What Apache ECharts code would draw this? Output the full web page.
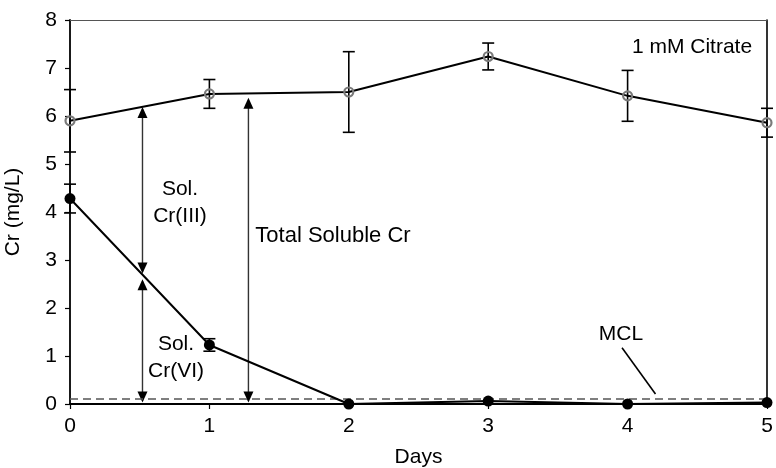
<!DOCTYPE html>
<html>
<head>
<meta charset="utf-8">
<title>Cr (mg/L) vs Days — 1 mM Citrate</title>
<script src="https://cdn.jsdelivr.net/npm/echarts@6/dist/echarts.min.js"></script>
<style>
  html, body { margin: 0; padding: 0; background: #fff; }
  #chart { width: 776px; height: 468px; }
</style>
</head>
<body>
<div id="chart"></div>
<script>
// Sampling days
const days = [0, 1, 2, 3, 4, 5];

// Total soluble Cr (mg/L) and its standard deviation
const totalCr = [5.90, 6.46, 6.50, 7.24, 6.42, 5.86];
const totalCrErr = [0.65, 0.30, 0.84, 0.28, 0.53, 0.30];

// Soluble Cr(VI) (mg/L) and its standard deviation
const crVI = [4.28, 1.23, 0.00, 0.06, 0.00, 0.03];
const crVIErr = [0.30, 0.13, 0, 0, 0, 0];

// Maximum contaminant level (mg/L)
const mcl = 0.1;

// Axis ticks
const xTicks = [0, 1, 2, 3, 4, 5];
const yTicks = [0, 1, 2, 3, 4, 5, 6, 7, 8];

// Double-headed annotation arrows: [day, upper end, lower end]
const arrowDays = [0.52, 0.52, 1.28];
const arrowTop = [6.19, 2.60, 6.38];
const arrowBottom = [2.72, 0.03, 0.03];

// Leader line pointing at the MCL line
const mclLeader = [[3.96, 1.17], [4.20, 0.21]];

const FONT = 'Liberation Sans, Arial, Helvetica, sans-serif';
const FS = 21;

const pairs = (xs, ys) => xs.map((x, i) => [x, ys[i]]);
const errRows = (xs, ys, es) => xs.map((x, i) => [x, ys[i] - es[i], ys[i] + es[i]]).filter((r, i) => es[i] > 0);
const arrowRows = arrowDays.map((d, i) => [d, arrowTop[i], arrowBottom[i]]);

function renderErr(params, api) {
  const x = api.value(0);
  const lo = api.coord([x, api.value(1)]);
  const hi = api.coord([x, api.value(2)]);
  const cap = 6;
  const style = { stroke: '#000', lineWidth: 1.6 };
  return {
    type: 'group',
    children: [
      { type: 'line', shape: { x1: lo[0], y1: lo[1], x2: hi[0], y2: hi[1] }, style },
      { type: 'line', shape: { x1: hi[0] - cap, y1: hi[1], x2: hi[0] + cap, y2: hi[1] }, style },
      { type: 'line', shape: { x1: lo[0] - cap, y1: lo[1], x2: lo[0] + cap, y2: lo[1] }, style }
    ]
  };
}

function renderArrow(params, api) {
  const x = api.value(0);
  const top = api.coord([x, api.value(1)]);
  const bot = api.coord([x, api.value(2)]);
  const hw = 5, hl = 11;
  return {
    type: 'group',
    children: [
      { type: 'line', shape: { x1: top[0], y1: top[1] + 2, x2: bot[0], y2: bot[1] - 2 },
        style: { stroke: '#333', lineWidth: 1.4 } },
      { type: 'polygon', shape: { points: [[top[0], top[1]], [top[0] - hw, top[1] + hl], [top[0] + hw, top[1] + hl]] },
        style: { fill: '#000' } },
      { type: 'polygon', shape: { points: [[bot[0], bot[1]], [bot[0] - hw, bot[1] - hl], [bot[0] + hw, bot[1] - hl]] },
        style: { fill: '#000' } }
    ]
  };
}

const chart = echarts.init(document.getElementById('chart'), null, { renderer: 'canvas' });

const text = (x, y, str, size) => ({
  type: 'text', x, y,
  style: { text: str, font: `${size || FS}px ${FONT}`, fill: '#000', align: 'center', verticalAlign: 'middle', lineHeight: 27 }
});

chart.setOption({
  animation: false,
  backgroundColor: '#fff',
  grid: { left: 70, right: 9, top: 20, bottom: 64, containLabel: false, outerBoundsMode: 'none' },
  xAxis: [{
    type: 'value', min: xTicks[0], max: xTicks[xTicks.length - 1], interval: 1,
    name: 'Days', nameLocation: 'middle', nameGap: 43,
    nameTextStyle: { color: '#000', fontSize: FS, fontFamily: FONT },
    axisLine: { show: true, onZero: false, lineStyle: { color: '#000', width: 2 } },
    axisTick: { show: true, length: 5, lineStyle: { color: '#000', width: 1.2 } },
    axisLabel: { color: '#000', fontSize: FS, fontFamily: FONT, margin: 12 },
    splitLine: { show: false }
  }, {
    type: 'value', position: 'top', min: xTicks[0], max: xTicks[xTicks.length - 1],
    axisLine: { show: true, onZero: false, lineStyle: { color: '#555', width: 1.2 } },
    axisTick: { show: false }, axisLabel: { show: false }, splitLine: { show: false }
  }],
  yAxis: [{
    type: 'value', min: yTicks[0], max: yTicks[yTicks.length - 1], interval: 1,
    name: 'Cr (mg/L)', nameLocation: 'middle', nameGap: 46, nameRotate: 90,
    nameTextStyle: { color: '#000', fontSize: FS, fontFamily: FONT },
    axisLine: { show: true, onZero: false, lineStyle: { color: '#000', width: 1.8 } },
    axisTick: { show: true, length: 5, lineStyle: { color: '#000', width: 1.2 } },
    axisLabel: { color: '#000', fontSize: FS, fontFamily: FONT, margin: 13 },
    splitLine: { show: false }
  }, {
    type: 'value', position: 'right', min: yTicks[0], max: yTicks[yTicks.length - 1],
    axisLine: { show: true, onZero: false, lineStyle: { color: '#000', width: 1.6 } },
    axisTick: { show: false }, axisLabel: { show: false }, splitLine: { show: false }
  }],
  series: [
    {
      name: 'MCL', type: 'line', data: [], silent: true,
      markLine: {
        silent: true, symbol: 'none', animation: false,
        label: { show: false },
        lineStyle: { color: '#555', type: [8, 5], width: 1.5 },
        data: [
          { yAxis: mcl },
          [{ coord: mclLeader[0], lineStyle: { color: '#000', type: 'solid', width: 1.6 } },
           { coord: mclLeader[1] }]
        ]
      }
    },
    {
      name: 'Total error', type: 'custom', renderItem: renderErr,
      data: errRows(days, totalCr, totalCrErr), encode: { x: 0, y: [1, 2] }, z: 3, silent: true
    },
    {
      name: 'Cr(VI) error', type: 'custom', renderItem: renderErr,
      data: errRows(days, crVI, crVIErr), encode: { x: 0, y: [1, 2] }, z: 3, silent: true
    },
    {
      name: 'Total Soluble Cr', type: 'line', data: pairs(days, totalCr),
      symbol: 'circle', symbolSize: 9, z: 4,
      lineStyle: { color: '#000', width: 2 },
      itemStyle: { color: 'rgba(0,0,0,0)', borderColor: '#7a7a7a', borderWidth: 2.2 }
    },
    {
      name: 'Sol. Cr(VI)', type: 'line', data: pairs(days, crVI),
      symbol: 'circle', symbolSize: 11, z: 5,
      lineStyle: { color: '#000', width: 2 },
      itemStyle: { color: '#000' }
    },
    {
      name: 'Arrows', type: 'custom', renderItem: renderArrow,
      data: arrowRows, encode: { x: 0, y: [1, 2] }, z: 2, silent: true
    }
  ],
  graphic: [
    text(692, 47, '1 mM Citrate'),
    text(180, 203, 'Sol.\nCr(III)'),
    text(176, 358, 'Sol.\nCr(VI)'),
    text(333, 236, 'Total Soluble Cr', 22),
    text(621, 334, 'MCL')
  ]
});
</script>
</body>
</html>
